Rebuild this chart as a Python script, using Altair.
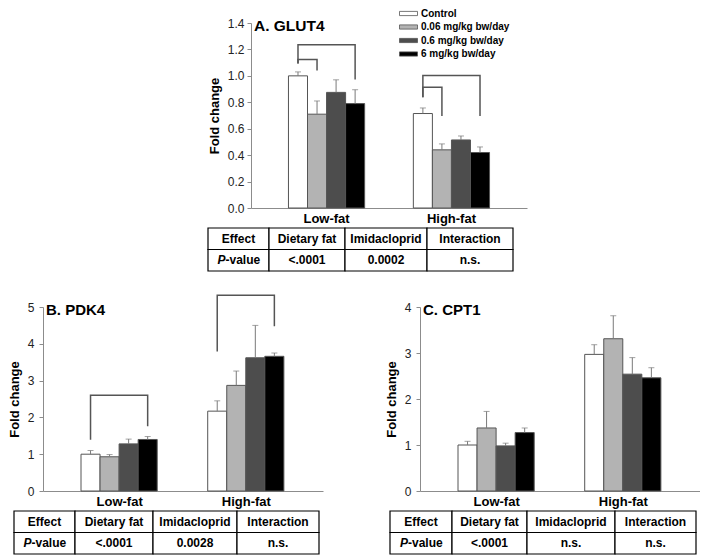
import altair as alt
import pandas as pd

FONT = "Liberation Sans"

# ---------------- data ----------------
groups = ["Low-fat", "High-fat"]
doses = ["Control", "0.06 mg/kg bw/day", "0.6 mg/kg bw/day", "6 mg/kg bw/day"]
dose_colors = ["#ffffff", "#b3b3b3", "#4d4d4d", "#000000"]

# A. GLUT4 (mean, mean + error)
glut4_low = [1.00, 0.71, 0.875, 0.79]
glut4_low_upper = [1.03, 0.81, 0.97, 0.895]
glut4_high = [0.715, 0.44, 0.515, 0.42]
glut4_high_upper = [0.757, 0.485, 0.545, 0.462]

# B. PDK4
pdk4_low = [1.00, 0.93, 1.28, 1.40]
pdk4_low_upper = [1.10, 0.99, 1.41, 1.48]
pdk4_high = [2.17, 2.87, 3.62, 3.66]
pdk4_high_upper = [2.45, 3.26, 4.50, 3.75]

# C. CPT1
cpt1_low = [1.00, 1.37, 0.98, 1.27]
cpt1_low_upper = [1.08, 1.73, 1.04, 1.37]
cpt1_high = [2.97, 3.31, 2.54, 2.46]
cpt1_high_upper = [3.18, 3.81, 2.90, 2.68]

# significance brackets (from Control to the given dose)
glut4_br_group = ["Low-fat", "Low-fat", "High-fat", "High-fat"]
glut4_br_to = ["6 mg/kg bw/day", "0.06 mg/kg bw/day", "6 mg/kg bw/day", "0.06 mg/kg bw/day"]
glut4_br_top = [1.235, 1.123, 1.003, 0.913]
glut4_br_left = [1.093, 1.093, 0.839, 0.839]
glut4_br_right = [0.973, 1.04, 0.696, 0.696]

pdk4_br_group = ["Low-fat", "High-fat"]
pdk4_br_to = ["6 mg/kg bw/day", "6 mg/kg bw/day"]
pdk4_br_top = [2.60, 5.32]
pdk4_br_left = [1.39, 3.79]
pdk4_br_right = [1.76, 4.48]

table_header = ["Effect", "Dietary fat", "Imidacloprid", "Interaction"]
p_label = ["P", "-value"]
glut4_p = ["<.0001", "0.0002", "n.s."]
pdk4_p = ["<.0001", "0.0028", "n.s."]
cpt1_p = ["<.0001", "n.s.", "n.s."]


def bar_df(low, low_up, high, high_up):
    rows = []
    for g, means, ups in (("Low-fat", low, low_up), ("High-fat", high, high_up)):
        for d, m, u in zip(doses, means, ups):
            rows.append(dict(group=g, dose=d, mean=m, upper=u))
    return pd.DataFrame(rows)


def bracket_df(grp, to, top, left, right):
    rows = []
    for i, (g, t, tp, lb, rb) in enumerate(zip(grp, to, top, left, right)):
        pts = [("Control", lb), ("Control", tp), (t, tp), (t, rb)]
        for s, (d, yv) in enumerate(pts):
            rows.append(dict(bracket=i, seq=s, group=g, dose=d, y=yv))
    return pd.DataFrame(rows)


def table_df(col_w, row_h, pvals):
    edges = [0]
    for w in col_w:
        edges.append(edges[-1] + w)
    texts = [table_header, ["".join(p_label)] + pvals]
    rows = []
    for r in range(2):
        for c in range(4):
            rows.append(dict(r=r, c=c, x0=edges[c], x1=edges[c + 1],
                             y0=r * row_h, y1=(r + 1) * row_h,
                             xc=(edges[c] + edges[c + 1]) / 2, yc=(r + 0.5) * row_h,
                             text=texts[r][c]))
    return pd.DataFrame(rows)


ROW_H = 21.5
TABLE_GAP = 20


def panel(title, bars, brs, pvals, ydomain, yticks, yfmt, W, H, lab_pad,
          col_w, table_dx, legend, title_fs):
    x_scale = alt.Scale(domain=groups, paddingInner=0.39, paddingOuter=0.3)
    x_axis = alt.Axis(title=None, labelAngle=0, ticks=False, labelFontSize=13,
                      labelFontWeight="bold", labelColor="#000", labelPadding=4,
                      domainColor="#8c8c8c", labelFont=FONT, grid=False)
    xo_scale = alt.Scale(domain=doses, paddingInner=0, paddingOuter=0)
    y_scale = alt.Scale(domain=ydomain, nice=False)
    y_axis = alt.Axis(title="Fold change", values=yticks, format=yfmt, tickSize=4,
                      tickColor="#8c8c8c", domainColor="#8c8c8c", labelPadding=lab_pad,
                      labelFontSize=12, labelColor="#222", labelFont=FONT,
                      titleFontSize=13, titleFontWeight="bold", titleColor="#000",
                      titleFont=FONT, titlePadding=6, grid=False)

    def X():
        return alt.X("group:N", sort=groups, scale=x_scale, axis=x_axis)

    def XO():
        return alt.XOffset("dose:N", sort=doses, scale=xo_scale)

    base = alt.Chart(bars)
    bar = base.mark_bar(stroke="#555555", strokeWidth=1).encode(
        x=X(), xOffset=XO(),
        y=alt.Y("mean:Q", scale=y_scale, axis=y_axis),
        color=alt.Color("dose:N", sort=doses,
                        scale=alt.Scale(domain=doses, range=dose_colors), legend=legend),
    )
    err = base.mark_rule(color="#7a7a7a", strokeWidth=1).encode(
        x=X(), xOffset=XO(),
        y=alt.Y("mean:Q", scale=y_scale, axis=y_axis), y2="upper:Q")
    cap = base.mark_tick(color="#7a7a7a", thickness=1, size=6, orient="horizontal").encode(
        x=X(), xOffset=XO(), y=alt.Y("upper:Q", scale=y_scale, axis=y_axis))
    layers = [bar, err, cap]
    if brs is not None:
        br = alt.Chart(brs).mark_line(color="#555555", strokeWidth=1.5).encode(
            x=X(), xOffset=XO(), y=alt.Y("y:Q", scale=y_scale, axis=y_axis),
            detail="bracket:N", order="seq:Q")
        layers.append(br)
    ttl = alt.Chart(pd.DataFrame({"t": [title]})).mark_text(
        align="left", baseline="alphabetic", fontSize=title_fs, fontWeight="bold",
        font=FONT, color="#000").encode(text="t:N", x=alt.value(3), y=alt.value(8))
    layers.append(ttl)
    main = alt.layer(*layers)

    tdf = table_df(col_w, ROW_H, pvals)
    tx = alt.Scale(domain=[-table_dx, W - table_dx], nice=False, zero=False)
    ty = alt.Scale(domain=[-(H + TABLE_GAP), -TABLE_GAP], nice=False, zero=False, reverse=True)
    tbase = alt.Chart(tdf)
    cells = tbase.mark_rect(fill="white", stroke="#000", strokeWidth=1.2).encode(
        x=alt.X("x0:Q", scale=tx, axis=None), x2="x1:Q",
        y=alt.Y("y0:Q", scale=ty, axis=None), y2="y1:Q")
    txt_main = tbase.transform_filter("!(datum.r == 1 && datum.c == 0)").mark_text(
        fontSize=12, fontWeight="bold", font=FONT, color="#000", baseline="middle").encode(
        x=alt.X("xc:Q", scale=tx, axis=None), y=alt.Y("yc:Q", scale=ty, axis=None),
        text="text:N")
    pcell = tbase.transform_filter("datum.r == 1 && datum.c == 0")
    txt_p = pcell.mark_text(fontSize=12, fontWeight="bold", fontStyle="italic", font=FONT,
                            color="#000", baseline="middle", align="right", dx=-13).encode(
        x=alt.X("xc:Q", scale=tx, axis=None), y=alt.Y("yc:Q", scale=ty, axis=None),
        text=alt.value(p_label[0]))
    txt_v = pcell.mark_text(fontSize=12, fontWeight="bold", font=FONT,
                            color="#000", baseline="middle", align="left", dx=-13).encode(
        x=alt.X("xc:Q", scale=tx, axis=None), y=alt.Y("yc:Q", scale=ty, axis=None),
        text=alt.value(p_label[1]))
    table = alt.layer(cells, txt_main, txt_p, txt_v)

    return alt.layer(main, table).resolve_scale(x="independent", y="independent").properties(
        width=W, height=H)


legend_a = alt.Legend(title=None, orient="none", legendX=152, legendY=-15,
                      symbolType="M-1.8,-0.42H1.8V0.42H-1.8Z", symbolSize=100,
                      symbolStrokeColor="#555555", symbolStrokeWidth=0.8,
                      labelFontSize=10, labelFontWeight="bold", labelFont=FONT,
                      labelColor="#000", rowPadding=2.5, labelOffset=7)

panel_a = panel("A. GLUT4",
                bar_df(glut4_low, glut4_low_upper, glut4_high, glut4_high_upper),
                bracket_df(glut4_br_group, glut4_br_to, glut4_br_top, glut4_br_left, glut4_br_right),
                glut4_p, [0, 1.4], [0, 0.2, 0.4, 0.6, 0.8, 1.0, 1.2, 1.4], ".1f",
                276, 185, 3, [61, 76, 82, 86], -43, legend_a, 15.5)

panel_b = panel("B. PDK4",
                bar_df(pdk4_low, pdk4_low_upper, pdk4_high, pdk4_high_upper),
                bracket_df(pdk4_br_group, pdk4_br_to, pdk4_br_top, pdk4_br_left, pdk4_br_right),
                pdk4_p, [0, 5], [0, 1, 2, 3, 4, 5], "d",
                280, 184, 5, [61, 78, 84, 82], -29, None, 15)

panel_c = panel("C. CPT1",
                bar_df(cpt1_low, cpt1_low_upper, cpt1_high, cpt1_high_upper),
                None, cpt1_p, [0, 4], [0, 1, 2, 3, 4], "d",
                280, 184, 5, [62, 75, 88, 81], -30, None, 15)

spacer = alt.Chart(pd.DataFrame({"v": [0]})).mark_point(opacity=0, size=1).encode(
    x=alt.value(0), y=alt.value(0)).properties(width=164, height=10)

top = alt.hconcat(spacer, panel_a, spacing=0).resolve_scale(color="independent").resolve_legend(color="independent")
bottom = alt.hconcat(panel_b, panel_c, spacing=62).resolve_scale(color="independent")

chart = alt.vconcat(top, bottom, spacing=20).resolve_scale(
    color="independent").resolve_legend(color="independent").properties(
    padding=0).configure(font=FONT).configure_view(stroke=None)

chart.save("out.html", embed_options={"renderer": "svg", "actions": False})
